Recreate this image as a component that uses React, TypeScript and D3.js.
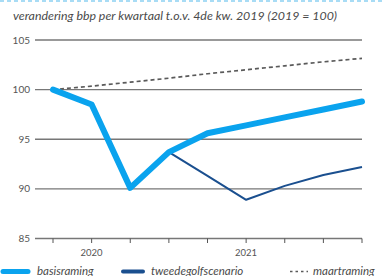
import React from "react";
import * as d3 from "d3";

const quarters = ["2019K4", "2020K1", "2020K2", "2020K3", "2020K4", "2021K1", "2021K2", "2021K3", "2021K4"];
const basisraming = [100, 98.5, 90.1, 93.7, 95.6, 96.4, 97.2, 98.0, 98.8];
const tweedegolfQuarters = ["2020K3", "2020K4", "2021K1", "2021K2", "2021K3", "2021K4"];
const tweedegolf = [93.7, 91.3, 88.9, 90.3, 91.4, 92.2];
const maartraming = [100, 100.35, 100.75, 101.15, 101.6, 102.0, 102.4, 102.8, 103.15];
const yTicks = [85, 90, 95, 100, 105];
const yearLabels = [
  { label: "2020", q: "2020K1" },
  { label: "2021", q: "2021K1" },
];
const title = "verandering bbp per kwartaal t.o.v. 4de kw. 2019 (2019 = 100)";

const W = 383;
const H = 276;
const font = "Lato, 'Open Sans', sans-serif";

export default function App() {
  const x = d3.scalePoint<string>().domain(quarters).range([53, 362]);
  const y = d3.scaleLinear().domain([85, 105]).range([238.5, 40]);
  const line = d3
    .line<[string, number]>()
    .x((d) => x(d[0]) as number)
    .y((d) => y(d[1]));

  const basisPath = line(quarters.map((q, i) => [q, basisraming[i]]));
  const tweedePath = line(tweedegolfQuarters.map((q, i) => [q, tweedegolf[i]]));
  const maartPath = line(quarters.map((q, i) => [q, maartraming[i]]));

  const gridX0 = 35;
  const gridX1 = 362;

  return (
    <svg width={W} height={H} style={{ position: "absolute", left: 0, top: 0, background: "#fff" }}>
      <line x1={0} x2={W} y1={1} y2={1} stroke="#a8dcf5" strokeWidth={2} strokeDasharray="4 3" />
      <text x={13} y={20} fontFamily={font} fontStyle="italic" fontSize={12.3} fill="#4a4a4a" textLength={324} lengthAdjust="spacingAndGlyphs">
        {title}
      </text>
      {yTicks.map((t) => (
        <g key={t}>
          <line x1={gridX0} x2={gridX1} y1={y(t)} y2={y(t)} stroke="#777" strokeWidth={1.4} />
          <text x={30} y={y(t) + 3.5} textAnchor="end" fontFamily={font} fontSize={10} fill="#555">
            {t}
          </text>
        </g>
      ))}
      {quarters.map((q) => (
        <line key={q} x1={x(q)} x2={x(q)} y1={y(85)} y2={y(85) + 4.5} stroke="#555" strokeWidth={1} />
      ))}
      {yearLabels.map((d) => (
        <text key={d.label} x={x(d.q)} y={256} textAnchor="middle" fontFamily={font} fontSize={9.5} fill="#555">
          {d.label}
        </text>
      ))}
      <path d={maartPath || ""} fill="none" stroke="#5a5a5a" strokeWidth={1.7} strokeDasharray="4 3" />
      <path d={tweedePath || ""} fill="none" stroke="#1a4f8f" strokeWidth={2} strokeLinejoin="round" />
      <path d={basisPath || ""} fill="none" stroke="#0aa3ee" strokeWidth={6} strokeLinejoin="round" strokeLinecap="round" />
      <g>
        <line x1={3} x2={28} y1={271.5} y2={271.5} stroke="#0aa3ee" strokeWidth={5} strokeLinecap="round" />
        <text x={37} y={275} fontFamily={font} fontStyle="italic" fontSize={11.5} fill="#4a4a4a">basisraming</text>
        <line x1={123} x2={143} y1={271.5} y2={271.5} stroke="#1a4f8f" strokeWidth={4} strokeLinecap="round" />
        <text x={151} y={275} fontFamily={font} fontStyle="italic" fontSize={11.5} fill="#4a4a4a">tweedegolfscenario</text>
        <line x1={290} x2={308} y1={271.5} y2={271.5} stroke="#5a5a5a" strokeWidth={1.6} strokeDasharray="2.5 3" />
        <text x={313} y={275} fontFamily={font} fontStyle="italic" fontSize={11.5} fill="#4a4a4a">maartraming</text>
      </g>
    </svg>
  );
}
